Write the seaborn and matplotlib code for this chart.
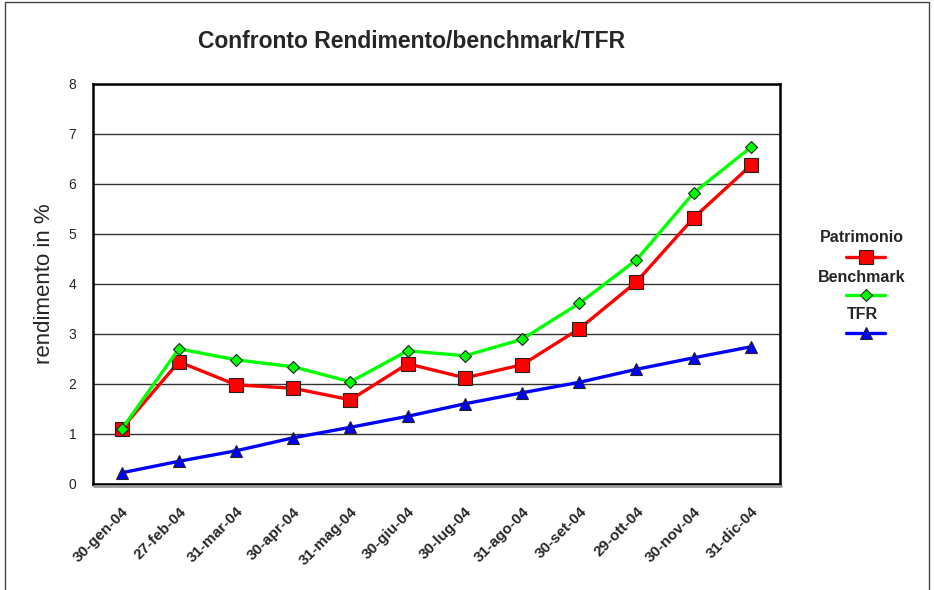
import pandas as pd
import matplotlib
matplotlib.use("Agg")
import matplotlib.pyplot as plt
import seaborn as sns
from matplotlib.lines import Line2D
from matplotlib.patches import Rectangle

dates = ["30-gen-04", "27-feb-04", "31-mar-04", "30-apr-04", "31-mag-04", "30-giu-04",
         "30-lug-04", "31-ago-04", "30-set-04", "29-ott-04", "30-nov-04", "31-dic-04"]
patrimonio = [1.10, 2.44, 1.98, 1.91, 1.68, 2.40, 2.12, 2.38, 3.10, 4.04, 5.32, 6.37]
benchmark = [1.09, 2.70, 2.48, 2.34, 2.04, 2.66, 2.56, 2.89, 3.61, 4.48, 5.82, 6.73]
tfr = [0.22, 0.45, 0.66, 0.92, 1.13, 1.35, 1.60, 1.82, 2.03, 2.29, 2.52, 2.74]

series = [
    ("Patrimonio", patrimonio, "#ff0000", "s", 10),
    ("Benchmark", benchmark, "#00ff00", "D", 6.5),
    ("TFR", tfr, "#0000ff", "^", 9),
]

sns.set_theme(style="white")
plt.rcParams["font.family"] = ["Liberation Sans", "DejaVu Sans"]

fig = plt.figure(figsize=(9.34, 5.9), dpi=100)
ax = fig.add_axes([0.0996, 0.18, 0.735, 0.678])

x = list(range(len(dates)))
for name, vals, col, mk, ms in series:
    df = pd.DataFrame({"pos": x, "val": vals})
    sns.lineplot(data=df, x="pos", y="val", ax=ax, color=col, linewidth=2.4,
                 marker=mk, markersize=ms, markeredgecolor="#222222",
                 markeredgewidth=0.8, zorder=3)

ax.set_xlim(-0.5, 11.5)
ax.set_ylim(0, 8)
ax.set_yticks(range(0, 9))
ax.yaxis.grid(True, color="#333333", linewidth=1)
ax.set_axisbelow(True)
ax.set_xticks(x)
ax.set_xticklabels(dates, rotation=45, ha="right", rotation_mode="anchor",
                   fontsize=11, fontweight="bold")
ax.tick_params(axis="x", length=0, pad=15)
ax.tick_params(axis="y", length=0, labelsize=10, pad=12)
ax.set_xlabel("")
ax.set_ylabel("rendimento in %", fontsize=16, labelpad=10)
for s in ax.spines.values():
    s.set_color("black")
    s.set_linewidth(1.8)

# shadow under the plot area frame
fig.add_artist(Line2D([0.101, 0.836], [0.176, 0.176], color="#999999", lw=2,
                      transform=fig.transFigure))

ax.set_title("Confronto Rendimento/benchmark/TFR", fontsize=16.5, fontweight="bold",
             pad=26, x=0.464)

# legend: label above each sample line
legend_text_y = [0.598, 0.530, 0.467]
legend_line_y = [0.564, 0.500, 0.436]
for (name, vals, col, mk, ms), ty, ly in zip(series, legend_text_y, legend_line_y):
    fig.text(0.923, ty, name, ha="center", va="center", fontsize=11.5, fontweight="bold")
    fig.add_artist(Line2D([0.906, 0.948], [ly, ly], color=col, lw=2.4,
                          transform=fig.transFigure))
    fig.add_artist(Line2D([0.927], [ly], marker=mk, markersize=ms,
                          color=col, markeredgecolor="#222222", markeredgewidth=0.8,
                          transform=fig.transFigure))

# outer frame
fig.add_artist(Rectangle((0.005, -0.01), 0.99, 1.006, fill=False, edgecolor="#444444",
                         lw=1, transform=fig.transFigure))

fig.savefig("out.png", dpi=100)
